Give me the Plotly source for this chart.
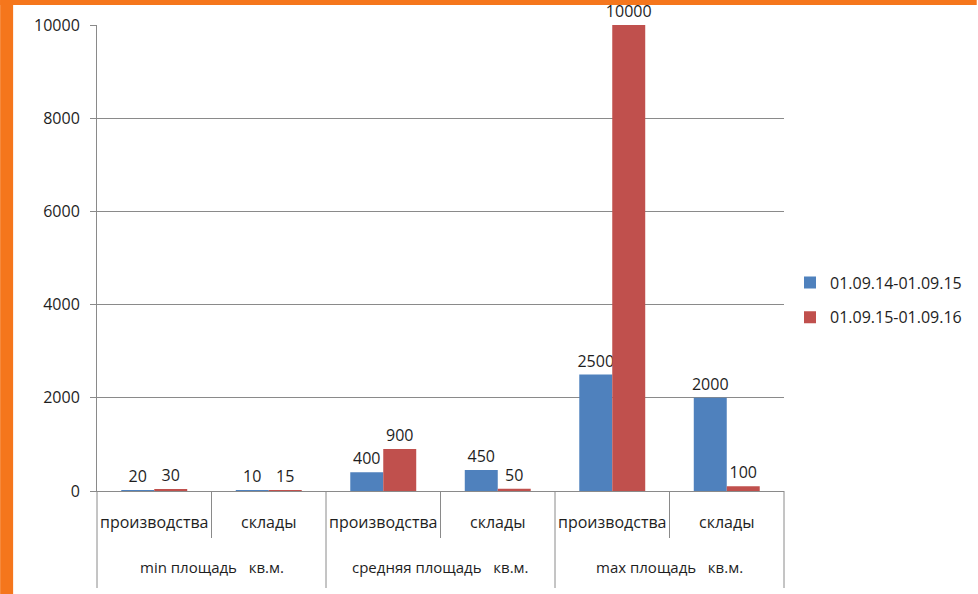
import plotly.graph_objects as go

# ---- data -------------------------------------------------------------
groups = ["min площадь\u00a0\u00a0\u00a0кв.м.",
          "средняя площадь\u00a0\u00a0\u00a0кв.м.",
          "max площадь\u00a0\u00a0\u00a0кв.м."]
subcats = ["производства", "склады", "производства", "склады", "производства", "склады"]
series_names = ["01.09.14-01.09.15", "01.09.15-01.09.16"]
values_1415 = [20, 10, 400, 450, 2500, 2000]
values_1516 = [30, 15, 900, 50, 10000, 100]
y_ticks = [0, 2000, 4000, 6000, 8000, 10000]
y_ticktext = ["0", "2000", "4000", "6000", "8000", "10000"]

# ---- styling ----------------------------------------------------------
W, H = 978, 594
ML, MR, MT, MB = 97, 193, 25, 103
PW, PH = W - ML - MR, H - MT - MB
FONT = "Open Sans, Noto Sans, sans-serif"
TXT = "#1e1e1e"
GRID = "#8a8a8a"
ORANGE = "#F5761C"
colors = ["#4F81BD", "#C0504D"]


def px_x(px):
    """pixel column -> paper x"""
    return (px - ML) / PW


def px_y(py):
    """pixel row -> paper y"""
    return (H - MB - py) / PH


x_idx = list(range(len(subcats)))

fig = go.Figure()
for name, vals, col in zip(series_names, [values_1415, values_1516], colors):
    fig.add_trace(go.Bar(
        x=x_idx, y=vals, name=name, legendgroup=name,
        marker=dict(color=col, line=dict(width=0)),
        text=[str(v) for v in vals], textposition="outside",
        constraintext="none", cliponaxis=False,
        textfont=dict(family=FONT, size=16, color=TXT),
    ))

shapes = []
# short dividers between the sub-categories
for b in [0.5, 2.5, 4.5]:
    shapes.append(dict(type="line", xref="x", yref="paper", x0=b, x1=b,
                       y0=0, y1=px_y(538), line=dict(color=GRID, width=1)))
# long dividers between the groups
for b in [1.5, 3.5]:
    shapes.append(dict(type="line", xref="x", yref="paper", x0=b, x1=b,
                       y0=0, y1=px_y(588), line=dict(color=GRID, width=1)))
for b in [0, 1]:
    shapes.append(dict(type="line", xref="x domain", yref="paper", x0=b, x1=b,
                       y0=0, y1=px_y(588), line=dict(color=GRID, width=1)))
# orange frame on the left and top
shapes.append(dict(type="rect", xref="paper", yref="paper", layer="above",
                   x0=px_x(0), x1=px_x(13), y0=px_y(H), y1=px_y(0),
                   fillcolor=ORANGE, line=dict(width=0)))
shapes.append(dict(type="rect", xref="paper", yref="paper", layer="above",
                   x0=px_x(0), x1=px_x(W), y0=px_y(5), y1=px_y(0),
                   fillcolor=ORANGE, line=dict(width=0)))

annotations = []
for gi, g in enumerate(groups):
    annotations.append(dict(
        x=2 * gi + 0.5, xref="x", y=px_y(567), yref="paper",
        text=g, showarrow=False, xanchor="center", yanchor="middle",
        font=dict(family=FONT, size=15, color=TXT),
    ))

fig.update_layout(
    width=W, height=H,
    margin=dict(l=ML, r=MR, t=MT, b=MB, pad=0),
    paper_bgcolor="white", plot_bgcolor="white",
    barmode="group", bargap=0.424, bargroupgap=0,
    font=dict(family=FONT, size=16, color=TXT),
    showlegend=True,
    legend=dict(
        x=px_x(790), y=px_y(300), xanchor="left", yanchor="middle",
        traceorder="grouped", tracegroupgap=11,
        font=dict(family=FONT, size=16, color=TXT),
        bgcolor="rgba(0,0,0,0)", borderwidth=0,
    ),
    xaxis=dict(
        range=[-0.5, 5.5], tickmode="array", tickvals=x_idx, ticktext=subcats,
        showgrid=False, zeroline=False, showline=True, linecolor=GRID,
        linewidth=1, ticks="", ticklabelstandoff=17,
        tickfont=dict(family=FONT, size=16, color=TXT),
    ),
    yaxis=dict(
        range=[0, 10000], tickmode="array", tickvals=y_ticks, ticktext=y_ticktext,
        showgrid=True, gridcolor=GRID, gridwidth=1,
        zeroline=False, showline=True, linecolor=GRID, linewidth=1,
        ticks="outside", ticklen=6, tickcolor=GRID,
        ticklabelstandoff=7,
        tickfont=dict(family=FONT, size=16, color=TXT),
    ),
    shapes=shapes,
    annotations=annotations,
)

fig.write_html("out.html")
